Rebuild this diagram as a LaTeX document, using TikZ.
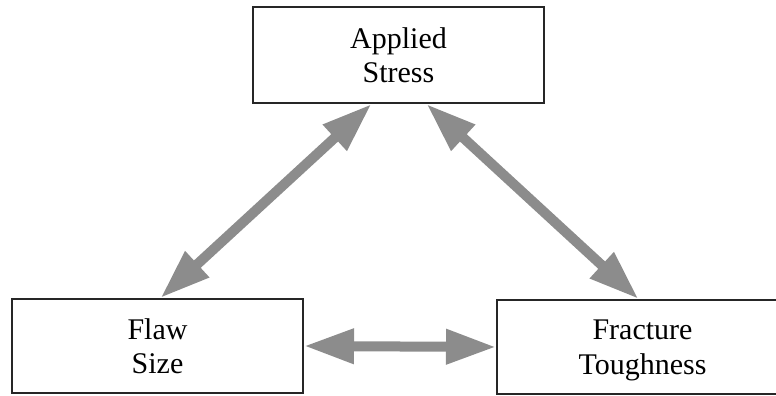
\documentclass[tikz,border=0pt]{standalone}
\usepackage{fontspec}
\setmainfont{Liberation Serif}
\usetikzlibrary{positioning,arrows.meta}

\begin{document}
\begin{tikzpicture}[x=1pt,y=1pt]
\tikzstyle{every node}+=[inner sep=0pt]
\tikzstyle{box}=[draw=black!85, line width=2pt, minimum width=291pt, minimum height=95pt, align=center, font=\fontsize{30}{34.5}\selectfont]
\tikzstyle{link}=[draw=black!45, line width=10pt, {Triangle[length=50pt,width=33pt]}-{Triangle[length=50pt,width=33pt]}]
\useasboundingbox (0,0) rectangle (776,396);
\node [box, minimum height=96pt] (stress) at (398.5,341) {Applied\\Stress};
\node [box, minimum height=94pt, text depth=-10pt] (flaw) at (157.5,50) {Flaw\\Size};
\node [box, minimum height=94pt, text depth=-8pt] (tough) at (642.5,49) {Fracture\\Toughness};
\draw [link] ([xshift=3pt]flaw.north) -- ([xshift=-27pt]stress.south);
\draw [link] ([xshift=28pt]stress.south) -- ([xshift=-4pt]tough.north);
\draw [link] (flaw.east) -- (tough.west);
\end{tikzpicture}
\end{document}
